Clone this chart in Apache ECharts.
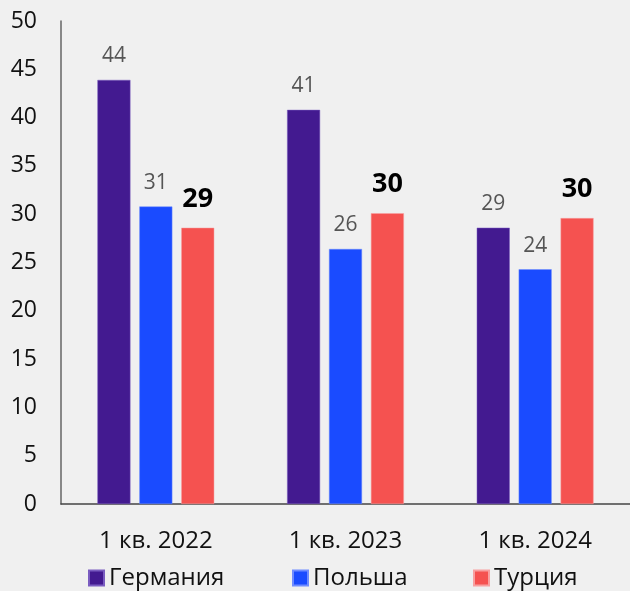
<!DOCTYPE html>
<html>
<head>
<meta charset="utf-8">
<script src="https://cdn.jsdelivr.net/npm/echarts@6/dist/echarts.min.js"></script>
<style>
  html, body { margin: 0; padding: 0; background: #f0f0f0; }
  #chart { width: 630px; height: 591px; }
</style>
</head>
<body>
<div id="chart"></div>
<script>
var categories = ['1 кв. 2022', '1 кв. 2023', '1 кв. 2024']
var germany = [43.9, 40.8, 28.6]
var poland = [30.8, 26.4, 24.3]
var turkey = [28.6, 30.1, 29.6]

var font = '"Open Sans", sans-serif'
var myChart = echarts.init(document.getElementById('chart'))

// подпись над столбцом — округлённое значение
function plainLabel() {
  return {
    show: true, position: 'top', distance: 13,
    color: '#555', fontSize: 21, fontFamily: font,
    formatter: function (p) { return Math.round(p.value) }
  }
}

// отдельная легенда на каждую страну, чтобы выставить отступы как в макете
function legendAt(name, left) {
  return {
    left: left, bottom: -4, itemWidth: 15, itemHeight: 15,
    icon: 'rect',
    textStyle: { fontSize: 24, color: '#111', fontFamily: font },
    data: [name]
  }
}

myChart.setOption({
  backgroundColor: '#f0f0f0',
  animation: false,
  grid: { left: 61, right: 0, top: 21, bottom: 87 },
  legend: [
    legendAt('Германия', 83),
    legendAt('Польша', 287),
    legendAt('Турция', 468)
  ],
  xAxis: {
    type: 'category', data: categories,
    axisLine: { lineStyle: { color: '#444', width: 1.5 } },
    axisTick: { show: false },
    axisLabel: { fontSize: 24, color: '#111', margin: 25, fontFamily: font }
  },
  yAxis: {
    type: 'value', min: 0, max: 50, interval: 5,
    axisLine: { show: true, lineStyle: { color: '#666', width: 1.5 } },
    splitLine: { show: false },
    axisLabel: { fontSize: 23, color: '#111', margin: 24, fontFamily: font }
  },
  series: [
    {
      name: 'Германия', type: 'bar', data: germany, barWidth: 33, barGap: '27%',
      itemStyle: { color: '#431a90', borderColor: '#7a5cc0', borderWidth: 0.5 },
      label: plainLabel()
    },
    {
      name: 'Польша', type: 'bar', data: poland, barWidth: 33, barGap: '27%',
      itemStyle: { color: '#1a4bff', borderColor: '#6f8cff', borderWidth: 0.5 },
      label: plainLabel()
    },
    {
      name: 'Турция', type: 'bar', data: turkey, barWidth: 33, barGap: '27%',
      itemStyle: { color: '#f55250', borderColor: '#f8a0a0', borderWidth: 0.5 },
      label: {
        show: true, position: 'top', distance: 15,
        color: '#000', fontSize: 27, fontWeight: 'bold', fontFamily: font,
        formatter: function (p) { return Math.round(p.value) }
      }
    }
  ]
})
</script>
</body>
</html>
